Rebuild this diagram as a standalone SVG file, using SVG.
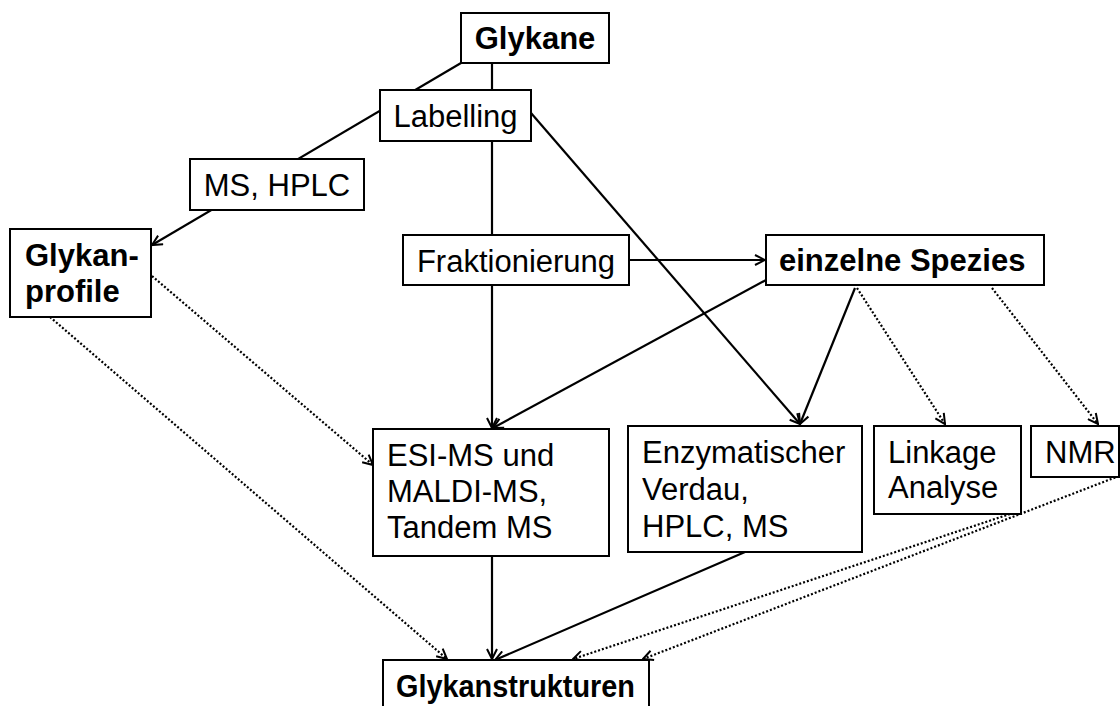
<svg xmlns="http://www.w3.org/2000/svg" width="1120" height="706" viewBox="0 0 1120 706">
<style>
.box{fill:#fff;stroke:#000;stroke-width:2}
.t{font-family:"Liberation Sans",Arial,sans-serif;font-size:31px;fill:#000}
.b{font-weight:bold}
.s{fill:none;stroke:#000;stroke-width:2.2}
.d{fill:none;stroke:#000;stroke-width:2.2;stroke-dasharray:2 2}
</style>
<defs>
<marker id="a" viewBox="0 0 12 12" refX="11" refY="6" markerWidth="12" markerHeight="12" markerUnits="userSpaceOnUse" orient="auto">
<path d="M1,1 L11,6 L1,11" fill="none" stroke="#000" stroke-width="2"/>
</marker>
</defs>
<rect width="1120" height="706" fill="#fff"/>
<g id="connectors">
<line class="s" x1="492" y1="63" x2="492" y2="235"/>
<line class="s" x1="461" y1="63" x2="152" y2="245" marker-end="url(#a)"/>
<line class="s" x1="531" y1="113" x2="800" y2="424" marker-end="url(#a)"/>
<line class="s" x1="629" y1="260" x2="765" y2="260" marker-end="url(#a)"/>
<line class="s" x1="492" y1="285" x2="492" y2="428" marker-end="url(#a)"/>
<line class="s" x1="766" y1="280" x2="493" y2="428" marker-end="url(#a)"/>
<line class="s" x1="855" y1="288" x2="800" y2="424" marker-end="url(#a)"/>
<line class="d" x1="857" y1="288" x2="945" y2="424" marker-end="url(#a)"/>
<line class="d" x1="992" y1="288" x2="1098" y2="424" marker-end="url(#a)"/>
<line class="d" x1="152" y1="276" x2="373" y2="465" marker-end="url(#a)"/>
<line class="d" x1="50" y1="317" x2="447" y2="659" marker-end="url(#a)"/>
<line class="s" x1="492" y1="556" x2="492" y2="659" marker-end="url(#a)"/>
<line class="s" x1="745" y1="552" x2="495" y2="660" marker-end="url(#a)"/>
<line class="d" x1="1010" y1="514" x2="573" y2="659" marker-end="url(#a)"/>
<line class="d" x1="1119" y1="476" x2="643" y2="659" marker-end="url(#a)"/>
</g>
<g id="glykane"><rect class="box" x="461" y="13" width="148" height="50"/><text class="t b" x="535" y="49" text-anchor="middle">Glykane</text></g>
<g id="labelling"><rect class="box" x="380" y="90" width="151" height="51"/><text class="t" x="455.5" y="127" text-anchor="middle">Labelling</text></g>
<g id="mshplc"><rect class="box" x="190" y="159" width="174" height="51"/><text class="t" x="277" y="196" text-anchor="middle">MS, HPLC</text></g>
<g id="glykanprofile"><rect class="box" x="10" y="229" width="141" height="88"/><text class="t b" x="25" y="266">Glykan-</text><text class="t b" x="25" y="302">profile</text></g>
<g id="fraktionierung"><rect class="box" x="403" y="235" width="226" height="50"/><text class="t" x="516" y="272" text-anchor="middle">Fraktionierung</text></g>
<g id="einzelne"><rect class="box" x="766" y="235" width="278" height="50"/><text class="t b" x="779" y="271">einzelne Spezies</text></g>
<g id="esims"><rect class="box" x="373" y="429" width="236" height="127"/><text class="t" x="387" y="466">ESI-MS und</text><text class="t" x="387" y="502">MALDI-MS,</text><text class="t" x="387" y="538">Tandem MS</text></g>
<g id="enzym"><rect class="box" x="628" y="426" width="234" height="126"/><text class="t" x="642" y="463">Enzymatischer</text><text class="t" x="642" y="500">Verdau,</text><text class="t" x="642" y="537">HPLC, MS</text></g>
<g id="linkage"><rect class="box" x="874" y="426" width="147" height="88"/><text class="t" x="888" y="463">Linkage</text><text class="t" x="888" y="498">Analyse</text></g>
<g id="nmr"><rect class="box" x="1031" y="426" width="88" height="51"/><text class="t" x="1045" y="463">NMR</text></g>
<g id="glykanstrukturen"><rect class="box" x="383" y="660" width="266" height="60"/><text class="t b" x="396" y="697" textLength="239" lengthAdjust="spacingAndGlyphs">Glykanstrukturen</text></g>
</svg>
